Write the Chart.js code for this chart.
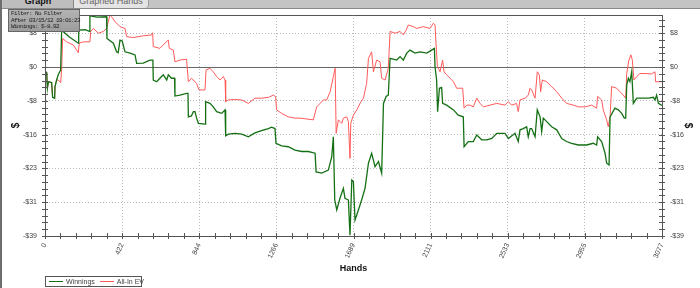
<!DOCTYPE html>
<html>
<head>
<meta charset="utf-8">
<script src="https://cdn.jsdelivr.net/npm/chart.js@4"></script>
<style>
  body { margin: 0; background: #fff; }
  #wrap { position: relative; width: 700px; height: 288px; overflow: hidden; background: #fff; font-family: "Liberation Sans", Arial, sans-serif; }
  #chart { position: absolute; left: 0; top: 0; }
  .topbar { position: absolute; left: 0; top: 0; width: 700px; height: 8px; background: #c4c4c4; border-bottom: 1px solid #8a8a8a; overflow: hidden; }
  .tab { position: absolute; top: -6px; height: 14px; line-height: 14px; font-size: 9px; text-align: center; }
  .tab1 { left: 3px; width: 70px; background: #bdbdbd; font-weight: bold; color: #111; border-right: 1px solid #888; }
  .tab2 { left: 74px; width: 74px; background: #e4e4e4; color: #666; border-right: 1px solid #999; border-radius: 0 0 4px 0; }
  .edge { position: absolute; left: 0; top: 0; width: 2px; height: 288px; background: #6d6d6d; }
  .filter { position: absolute; left: 8px; top: 9px; width: 68px; height: 20px; padding: 1px 0 0 2px;
    background: linear-gradient(#b4b4b4, #9c9c9c); border: 1px solid #666; font-family: "Liberation Mono", monospace;
    font-size: 6px; letter-spacing: -0.6px; line-height: 6.6px; color: #222; white-space: nowrap; }
  .legend { position: absolute; left: 45px; top: 276px; width: 95px; height: 9px; border: 1px solid #555; background: #fff;
    font-size: 7px; line-height: 9px; color: #444; white-space: nowrap; }
  .legend span.sw { display: inline-block; width: 14px; height: 0; vertical-align: middle; margin: 0 3px 0 3px; position: relative; top: -1px; }
</style>
</head>
<body>
<div id="wrap">
  <canvas id="chart" width="700" height="288"></canvas>
  <div class="topbar">
    <div class="tab tab1">Graph</div>
    <div class="tab tab2">Graphed Hands</div>
  </div>
  <div class="edge"></div>
  <div class="filter">Filter: No Filter<br>After 03/15/12 19:01:23<br>Winnings: $-8.92</div>
  <div class="legend"><span class="sw" style="border-top:1.5px solid #157015"></span>Winnings<span class="sw" style="border-top:1px solid #ff5a5a;margin-left:5px"></span>All-In EV</div>
</div>
<script>
// --- Data ---
const xMax = 3077;
const xTickLabels = ['0', '422', '844', '1266', '1689', '2111', '2533', '2955', '3077'];
const yMajorTicks = [-39, -31.2, -23.4, -15.6, -7.8, 0, 7.8];
const yTickLabels = ['-$39', '-$31', '-$23', '-$16', '-$8', '$0', '$8'];

const winHands = [8, 12, 17, 33, 38, 48, 50, 58, 66, 78, 83, 120, 166, 168, 200, 222, 224, 260, 307, 309,
  341, 357, 365, 374, 385, 399, 424, 449, 457, 490, 523, 538, 540, 557, 573, 590, 607, 615, 631, 646,
  648, 673, 706, 713, 715, 730, 740, 748, 756, 765, 798, 801, 823, 839, 856, 881, 898, 901, 914, 947,
  981, 1014, 1047, 1080, 1114, 1130, 1147, 1152, 1180, 1213, 1247, 1280, 1313, 1347, 1352, 1380, 1413, 1430, 1438, 1445,
  1455, 1471, 1488, 1496, 1513, 1521, 1530, 1538, 1546, 1563, 1579, 1596, 1613, 1629, 1646, 1663, 1679, 1688, 1701, 1712,
  1721, 1754, 1771, 1787, 1804, 1820, 1845, 1870, 1904, 1928, 1942, 1945, 1953, 1958, 1967, 1978, 1983, 2003, 2037, 2061,
  2086, 2090, 2111, 2136, 2153, 2178, 2203, 2228, 2253, 2294, 2311, 2344, 2360, 2369, 2385, 2402, 2410, 2419, 2427, 2444,
  2455, 2469, 2477, 2485, 2502, 2527, 2552, 2577, 2601, 2626, 2660, 2701, 2734, 2751, 2756, 2776, 2793, 2801, 2813, 2818,
  2842, 2859, 2876, 2889, 2896, 2901, 2909, 2917, 2926, 2934, 2951, 2975, 3009, 3034, 3042, 3050, 3059, 3077];
const winValues = [-1.1, -4.9, -3.4, -3.6, -7.0, -7.2, -4.5, -3.0, -1.8, -0.7, 8.5, 7.0, 5.5, 8.5, 8.6, 8.2, 11.8, 11.5, 11.6, 6.6,
  5.5, 3.5, 3.3, 6.2, 6.0, 3.5, 3.2, 2.8, 0.85, 0.9, 1.6, 1.6, -3.0, -3.4, -2.6, -1.8, -3.0, -1.8, -2.6, -2.6,
  -6.7, -6.5, -6.1, -6.1, -11.5, -11.3, -10.3, -10.3, -11.8, -13.0, -13.2, -8.0, -8.4, -9.2, -10.3, -10.7, -9.9, -15.9, -15.5, -15.3,
  -15.5, -16.1, -15.2, -14.7, -14.2, -13.9, -14.2, -17.6, -18.2, -18.4, -19.2, -19.5, -19.5, -19.9, -24.2, -24.5, -23.8, -20.7, -16.1, -30.7,
  -33.0, -30.3, -28.0, -30.3, -30.7, -38.8, -26.1, -26.5, -35.3, -33.0, -30.7, -28.0, -22.2, -19.9, -23.0, -21.8, -24.5, -8.4, -6.8, -6.5,
  2.0, 1.6, 2.4, 1.6, 3.2, 3.9, 3.2, 3.5, 3.2, 3.9, 4.3, 0.1, -3.0, -10.3, -4.9, -4.7, -8.4, -8.8, -9.9, -11.1,
  -11.5, -18.4, -17.2, -17.2, -15.7, -16.8, -16.8, -16.5, -15.3, -15.3, -16.5, -15.3, -17.2, -14.5, -14.2, -13.8, -16.1, -14.2, -14.2, -16.1,
  -9.9, -11.5, -14.9, -11.8, -12.6, -13.8, -14.5, -16.5, -17.2, -17.6, -18.0, -18.0, -17.6, -18.0, -16.1, -17.2, -19.9, -22.2, -22.6, -11.5,
  -9.5, -9.9, -10.7, -11.8, -11.8, -4.2, -2.6, -3.4, -1.1, -8.4, -7.2, -7.2, -7.2, -7.0, -7.6, -6.5, -8.4, -8.9];

const evHands = [8, 12, 17, 33, 38, 48, 50, 58, 66, 78, 83, 88, 108, 141, 166, 171, 191, 224, 228, 241,
  266, 291, 307, 324, 332, 349, 374, 399, 407, 440, 490, 532, 537, 540, 573, 598, 615, 620, 640, 648,
  673, 706, 715, 731, 756, 768, 798, 803, 823, 839, 856, 873, 889, 898, 901, 914, 947, 981, 1014, 1047,
  1080, 1114, 1139, 1150, 1155, 1180, 1213, 1247, 1272, 1338, 1355, 1372, 1388, 1405, 1422, 1438, 1447, 1452, 1463, 1480,
  1488, 1505, 1513, 1521, 1525, 1538, 1555, 1571, 1588, 1604, 1613, 1629, 1638, 1654, 1671, 1679, 1696, 1712, 1721, 1746,
  1771, 1787, 1801, 1812, 1837, 1854, 1887, 1920, 1937, 1945, 1950, 1957, 1970, 1983, 1990, 2003, 2020, 2037, 2053, 2083,
  2090, 2103, 2120, 2136, 2153, 2170, 2186, 2219, 2253, 2294, 2311, 2327, 2352, 2360, 2369, 2394, 2410, 2419, 2427, 2444,
  2455, 2465, 2472, 2480, 2502, 2527, 2552, 2577, 2601, 2635, 2660, 2693, 2726, 2751, 2756, 2776, 2784, 2801, 2809, 2818,
  2826, 2851, 2867, 2884, 2896, 2901, 2912, 2922, 2929, 2937, 2951, 2967, 2992, 3025, 3042, 3045, 3077];
const evValues = [-1.1, -4.9, -3.4, -3.6, -7.0, -7.2, -4.5, -3.0, -3.0, -3.6, -0.7, 6.6, 5.8, 5.1, 3.3, 5.5, 5.8, 5.8, 8.2, 8.9,
  7.8, 8.2, 8.9, 12.0, 11.6, 10.5, 9.3, 8.9, 7.0, 6.8, 7.2, 7.4, 7.9, 4.7, 4.3, 5.5, 6.2, 4.3, 3.9, 1.2,
  1.6, 1.8, -3.4, -2.6, -3.8, -5.3, -5.3, -0.7, -0.3, -1.1, -2.2, -3.0, -2.2, -3.0, -8.0, -7.6, -7.5, -7.6, -8.4, -7.2,
  -7.2, -7.0, -6.5, -6.8, -9.9, -10.7, -11.5, -11.8, -11.8, -12.2, -9.2, -8.4, -7.6, -7.6, -5.7, -2.2, -0.3, -15.3, -12.2, -13.0,
  -11.8, -11.5, -12.6, -21.1, -13.0, -11.1, -9.9, -8.4, -7.2, -3.8, 2.0, 3.5, -1.1, 1.6, 1.2, -2.6, -3.0, -0.3, 8.2, 7.8,
  8.2, 7.4, 8.5, 9.7, 9.3, 8.9, 9.3, 8.9, 10.1, 9.7, 5.5, 0.1, -1.1, 1.6, -1.1, -1.8, -2.6, -3.4, -4.9, -4.9,
  -9.5, -8.8, -8.8, -9.2, -7.2, -8.4, -9.2, -8.8, -8.4, -8.8, -8.0, -8.8, -8.4, -10.3, -7.6, -7.2, -6.5, -4.9, -5.3, -7.2,
  -1.1, -1.8, -5.7, -3.0, -3.4, -4.5, -5.7, -7.2, -8.4, -8.8, -9.2, -9.2, -8.8, -9.5, -6.8, -7.6, -9.9, -12.2, -13.8, -11.5,
  -4.5, -4.9, -5.7, -6.5, -7.2, -1.5, 1.6, 2.8, 1.6, -3.0, -2.2, -1.5, -1.5, -1.6, -1.1, -3.4, -3.4];

const yMin = -39, yMax = 12;
const axisColor = '#555';
const tickFont = { family: 'Liberation Sans', size: 7 };

// --- Plugin: frame, zero line and the small tick marks across the axes ---
const framePlugin = {
  id: 'frame',
  beforeDatasetsDraw(chart) {
    const { ctx, chartArea: a, scales } = chart;
    const y0 = scales.y.getPixelForValue(0);
    ctx.save();
    ctx.strokeStyle = '#666';
    ctx.lineWidth = 1;
    ctx.beginPath();
    ctx.moveTo(a.left, Math.round(y0) + 0.5);
    ctx.lineTo(a.right, Math.round(y0) + 0.5);
    ctx.stroke();
    ctx.restore();
  },
  afterDraw(chart) {
    const { ctx, chartArea: a, scales } = chart;
    ctx.save();
    ctx.strokeStyle = axisColor;
    ctx.lineWidth = 1;
    ctx.beginPath();
    ctx.moveTo(a.left, a.top + 0.5);
    ctx.lineTo(a.right, a.top + 0.5);
    // y minor ticks (5 per major step)
    const step = 7.8 / 5;
    for (let v = yMin; v <= yMax + 0.01; v += step) {
      const py = Math.round(scales.y.getPixelForValue(v)) + 0.5;
      ctx.moveTo(a.left - 3, py); ctx.lineTo(a.left + 3, py);
      ctx.moveTo(a.right - 3, py); ctx.lineTo(a.right + 3, py);
    }
    // x minor ticks
    for (let i = 0; i <= 40; i++) {
      const px = Math.round(scales.x.getPixelForValue(xMax * i / 40)) + 0.5;
      ctx.moveTo(px, a.bottom - 3); ctx.lineTo(px, a.bottom + 3);
    }
    ctx.stroke();
    ctx.restore();
  }
};

function yAxis(position, width) {
  return {
    type: 'linear',
    position: position,
    min: yMin,
    max: yMax,
    afterBuildTicks: scale => { scale.ticks = yMajorTicks.map(v => ({ value: v })); },
    afterFit: scale => { scale.width = width; },
    ticks: {
      callback: (v, i) => yTickLabels[i],
      font: tickFont,
      color: '#444',
      padding: 8
    },
    grid: {
      drawTicks: false,
      color: ctx => (position === 'left' && ctx.tick && ctx.tick.value > yMin && ctx.tick.value !== 0) ? '#b8b8b8' : 'rgba(0,0,0,0)',
      lineWidth: 1
    },
    border: { display: true, color: axisColor, dash: [1, 2] },
    title: {
      display: true,
      text: '$',
      font: { family: 'Liberation Sans', size: 10, weight: 'bold' },
      color: '#111',
      padding: { top: position === 'left' ? 10 : 6, bottom: 0 }
    }
  };
}

new Chart(document.getElementById('chart'), {
  type: 'line',
  data: {
    datasets: [
      {
        label: 'Winnings',
        data: winHands.map((h, i) => ({ x: h, y: winValues[i] })),
        borderColor: '#157015',
        borderWidth: 1.3,
        pointRadius: 0,
        tension: 0
      },
      {
        label: 'All-In EV',
        data: evHands.map((h, i) => ({ x: h, y: evValues[i] })),
        borderColor: '#ff5a5a',
        borderWidth: 1,
        pointRadius: 0,
        tension: 0
      }
    ]
  },
  options: {
    responsive: false,
    animation: false,
    devicePixelRatio: 1,
    layout: { padding: { top: 15, bottom: 12, left: 0, right: 0 } },
    plugins: { legend: { display: false }, tooltip: { enabled: false } },
    scales: {
      x: {
        type: 'linear',
        min: 0,
        max: xMax,
        afterBuildTicks: scale => { scale.ticks = xTickLabels.map((l, i) => ({ value: xMax * i / 8 })); },
        afterFit: scale => { scale.height = 40; },
        ticks: {
          callback: (v, i) => xTickLabels[i],
          font: tickFont,
          color: '#444',
          minRotation: 65,
          maxRotation: 65,
          padding: 6
        },
        grid: {
          drawTicks: false,
          color: ctx => (ctx.tick && ctx.tick.value > 0 && ctx.tick.value < xMax) ? '#b8b8b8' : 'rgba(0,0,0,0)'
        },
        border: { display: true, color: axisColor, dash: [1, 2] },
        title: {
          display: true,
          text: 'Hands',
          font: { family: 'Liberation Sans', size: 9, weight: 'bold' },
          color: '#111',
          padding: { top: 0, bottom: 2 }
        }
      },
      y: yAxis('left', 45),
      y2: yAxis('right', 38)
    }
  },
  plugins: [framePlugin]
});
</script>
</body>
</html>
